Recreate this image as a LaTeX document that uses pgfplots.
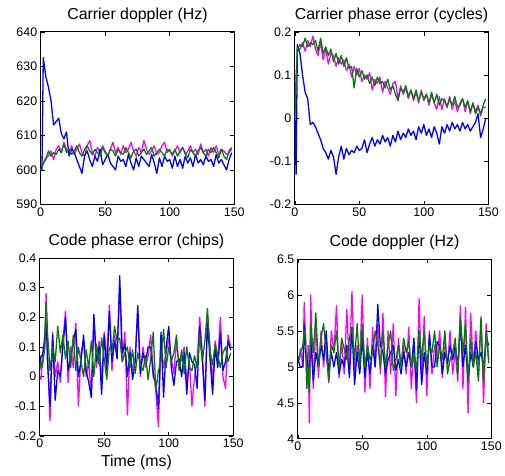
\documentclass[border=0pt]{standalone}
\usepackage{pgfplots}
\pgfplotsset{compat=1.18}
\usepackage{pgfplotstable}
\usepackage{fontspec}
\setmainfont{Liberation Sans}
\definecolor{mmag}{rgb}{1,0,1}
\definecolor{mblue}{rgb}{0,0,1}
\definecolor{mgreen}{rgb}{0,0.5,0}

\pgfplotstableread{
x m b g
0 600 600 600
1 601 600 600.5
2 602 632.5 602
4 603.5 627 603
6 604 624 605.5
8 605.5 620 604
10 603 613 605
12 606 614 604.5
14 607 615 606
16 605 610.5 605
18 608 609 607.5
20 606 611 605
22 605 604 606
24 607 606 604.5
26 604.5 605 605.5
28 606 603 607
30 607.5 601 605
32 605 599 604
34 604 604 606
36 607 605.5 607
38 608.5 603 605.5
40 605 601 604.5
42 604 604 606
44 606.5 602.5 605
46 605 606 604
48 607 601.5 606.5
50 605.5 603 605
52 604 604.5 604
54 606 602 606
56 608 601 605.5
58 605 600 604
60 606.5 604 606
62 604.5 602.5 605
64 607 603 604.5
66 605 601 606.5
68 606 604.5 605
70 608 602 603.5
72 605.5 600 605.5
74 604 603.5 606
76 606.5 601 604
78 605 604 605
80 608.5 603 606
82 606 602 604.5
84 604.5 601 605.5
86 605.5 604.5 606.5
88 607 602 604
90 604.5 599 605
92 605 603.5 606
94 607 601 605
96 608 604 604
98 605 602.5 606
100 606 603 605.5
102 604 600.5 604.5
104 605.5 604 606
106 607 601 604
108 605 603 605.5
110 606.5 600.5 606.5
112 604.5 604 605
114 605.5 602 603.5
116 607 603.5 606
118 605 601 605
120 606 604.5 604
122 604.5 602 605.5
124 607.5 603 606.5
126 605 601.5 605
128 606 604 604
130 604 602.5 606
132 606.5 603 605
134 605 601 606.5
136 607 604.5 605
138 604.5 602 603.5
140 606 603 606
142 605.5 601.5 604
144 604.5 600 603
146 605 603 605.5
148 606 605 606.5
}\cardop

\pgfplotstableread{
x m b g
0 0 0 0
1 0.10 -0.13 0.08
2 0.155 0.17 0.16
4 0.16 0.15 0.17
6 0.175 0.10 0.165
8 0.155 0.06 0.185
10 0.18 0.045 0.165
12 0.165 -0.015 0.175
14 0.19 -0.01 0.17
16 0.16 -0.02 0.18
18 0.145 -0.035 0.155
20 0.175 -0.05 0.185
22 0.135 -0.07 0.15
24 0.16 -0.08 0.165
26 0.125 -0.095 0.145
28 0.15 -0.075 0.16
30 0.145 -0.09 0.13
32 0.12 -0.13 0.15
34 0.14 -0.09 0.125
36 0.125 -0.065 0.145
38 0.135 -0.095 0.12
40 0.11 -0.07 0.14
42 0.125 -0.085 0.115
44 0.095 -0.075 0.12
46 0.12 -0.08 0.07
48 0.10 -0.065 0.115
50 0.115 -0.075 0.095
52 0.085 -0.07 0.11
54 0.10 -0.05 0.09
56 0.09 -0.08 0.10
58 0.105 -0.06 0.08
60 0.065 -0.045 0.095
62 0.09 -0.065 0.075
64 0.08 -0.05 0.095
66 0.095 -0.06 0.08
68 0.06 -0.04 0.085
70 0.085 -0.055 0.07
72 0.07 -0.045 0.09
74 0.055 -0.065 0.065
76 0.08 -0.04 0.075
78 0.085 -0.055 0.055
80 0.045 -0.03 0.04
82 0.075 -0.05 0.07
84 0.055 -0.035 0.06
86 0.07 -0.045 0.075
88 0.045 -0.025 0.05
90 0.065 -0.04 0.065
92 0.04 -0.03 0.045
94 0.06 -0.05 0.065
96 0.035 -0.02 0.04
98 0.065 -0.035 0.06
100 0.04 -0.015 0.045
102 0.055 -0.04 0.055
104 0.03 -0.025 0.035
106 0.055 -0.045 0.06
108 0.035 -0.02 0.035
110 0.02 -0.035 0.055
112 0.05 -0.06 0.03
114 0.02 -0.02 0.045
116 0.045 -0.035 0.04
118 0.025 -0.015 0.025
120 0.05 -0.03 0.045
122 0.02 -0.01 0.03
124 0.04 -0.025 0.05
126 0.015 -0.015 0.025
128 0.035 -0.03 0.03
130 0.045 -0.01 0.045
132 0.015 -0.025 0.025
134 0.04 -0.015 0.04
136 0.01 -0.03 0.015
138 0.035 -0.02 0.035
140 0.015 -0.01 0.01
142 0.03 0.01 0.025
144 0.005 -0.045 0.01
146 0.025 -0.025 0.03
148 0.025 0 0.045
}\carphase

\pgfplotstableread{
x m b g
0 0.0 0.02 0.03
1 -0.01 0.07 0.05
2 0.05 0.07 0.03
4 0.15 0.12 0.10
5 0.28 0.22 0.25
6 0.10 0.05 0.15
8 -0.15 -0.10 0.02
10 0.15 0.14 0.10
12 0.0 -0.08 0.05
14 0.05 0.02 0.17
16 -0.02 0.0 0.08
18 0.12 0.10 0.14
20 0.22 0.20 0.06
22 -0.02 0.02 0.12
24 0.10 0.06 0.03
26 0.03 0.12 0.14
28 0.18 0.16 0.02
30 -0.10 0.0 0.10
32 0.08 0.05 0.05
34 0.12 0.14 0.0
36 0.0 0.02 0.09
38 0.05 -0.02 0.03
40 -0.07 -0.07 0.12
42 0.20 0.21 0.0
44 0.03 0.05 0.11
46 0.12 0.10 0.04
48 -0.02 -0.06 0.13
50 0.15 0.14 0.06
52 0.05 0.02 -0.01
54 0.24 0.22 0.10
56 0.02 0.05 0.08
58 0.14 0.12 0.17
60 0.08 0.06 0.12
62 0.30 0.34 0.13
64 0.05 0.08 0.05
66 0.15 0.11 0.08
68 -0.13 0.0 0.10
70 0.10 0.08 0.03
72 0.02 -0.01 0.09
74 0.06 0.05 0.01
76 0.22 0.24 0.08
78 0.0 0.01 0.04
80 0.10 0.08 0.02
82 0.03 0.05 0.07
84 0.07 0.10 -0.01
86 0.14 0.10 0.06
88 0.02 0.0 0.15
90 -0.05 -0.02 -0.05
92 -0.17 -0.11 0.02
94 0.12 0.15 0.05
96 0.03 -0.07 0.16
98 0.08 0.10 0.03
100 0.13 0.17 0.10
102 0.06 0.03 0.05
104 0.01 -0.03 0.08
106 0.12 0.05 0.14
108 0.03 0.06 0.02
110 0.06 0.0 0.09
112 0.10 0.08 0.01
114 -0.02 -0.06 0.10
116 0.05 0.08 0.03
118 -0.10 0.05 0.02
120 0.0 0.04 0.07
122 0.05 -0.04 0.03
124 0.20 0.17 0.14
126 0.08 0.06 0.05
128 -0.10 -0.08 0.12
130 0.21 0.18 0.23
132 0.10 0.06 0.08
134 -0.02 -0.06 0.04
136 0.12 0.10 0.11
138 0.05 0.03 0.07
140 0.20 0.15 0.03
142 0.0 0.02 0.08
144 -0.04 0.05 0.10
146 0.14 0.12 0.05
148 0.10 0.09 0.08
}\codephase

\pgfplotstableread{
x m b g
0 5.15 5.15 5.15
1 5.1 5.05 5.1
2 5.25 5.0 5.2
4 5.0 5.0 5.3
5 5.9 5.6 5.5
6 5.4 5.2 5.45
7 4.7 5.1 4.7
8 5.3 5.0 5.0
9 4.22 4.9 4.65
10 6.0 5.4 5.6
12 4.7 4.8 5.2
14 5.6 5.2 5.75
16 4.85 5.0 5.0
18 5.5 5.3 5.4
20 5.0 5.1 5.6
22 5.4 5.5 5.2
24 4.78 4.9 4.8
26 5.5 5.2 5.3
28 5.2 5.0 5.2
30 5.85 5.2 5.5
32 4.85 4.9 5.0
34 5.35 5.1 5.4
36 4.9 5.0 5.25
38 5.8 5.3 5.1
40 5.0 4.85 5.4
42 6.05 5.55 5.55
44 4.9 4.75 5.1
46 5.3 5.2 5.6
48 5.1 4.9 5.0
50 6.0 5.4 5.6
52 4.65 4.85 5.0
54 5.4 5.2 5.3
56 4.7 4.9 5.1
58 5.55 5.3 5.2
60 5.0 5.0 5.5
62 5.6 5.87 5.3
64 4.9 5.3 5.0
66 5.75 5.2 5.5
68 4.58 4.9 5.0
70 5.5 5.1 5.3
72 4.9 5.2 5.5
74 5.6 5.3 4.95
76 4.6 4.95 5.1
78 5.4 5.1 5.3
80 5.0 4.9 5.0
82 5.3 5.2 5.4
84 4.9 5.0 5.2
86 5.55 5.2 5.35
88 4.7 5.0 5.0
90 5.3 5.4 5.2
92 4.5 4.67 4.95
94 5.95 5.5 5.5
96 4.8 4.75 5.1
98 5.7 5.2 5.5
100 4.6 4.9 5.0
102 5.5 5.45 5.3
104 4.9 5.0 5.2
106 5.3 5.0 5.5
108 5.1 5.35 5.0
110 5.5 5.3 5.3
112 4.85 4.9 5.1
114 5.4 5.2 5.5
116 5.0 5.05 4.9
118 5.5 5.3 5.1
120 4.9 5.1 5.2
122 5.2 5.3 5.4
124 4.8 5.0 4.9
126 5.85 5.6 5.7
128 4.7 5.0 5.2
130 5.83 5.3 5.6
132 4.36 4.8 4.8
134 5.75 5.2 5.4
136 5.0 5.0 5.0
138 5.5 5.35 5.2
140 4.9 5.1 4.8
142 5.7 5.2 5.68
144 4.5 5.0 4.8
146 5.6 5.4 5.5
148 5.1 5.3 5.05
}\codedop

\pgfplotsset{
  mat/.style={
    scale only axis, width=195pt, height=174pt,
    xmin=0, xmax=150, xtick={0,50,100,150},
    tick align=inside, major tick length=4pt,
    tick style={black, line width=0.5pt},
    axis line style={black, line width=0.8pt},
    /pgf/number format/assume math mode=true,
    tick label style={font=\fontsize{12.5}{14}\selectfont},
    title style={font=\fontsize{16}{18}\selectfont},
    label style={font=\fontsize{16}{18}\selectfont},
    every axis plot/.append style={line width=1.3pt, line join=round},
  }
}

\begin{document}
\begin{tikzpicture}
\path (0pt,0pt) rectangle (505pt,-479pt);

\begin{axis}[mat, at={(41pt,-32pt)}, anchor=north west,
  ymin=590, ymax=640, ytick={590,600,...,640},
  title={Carrier doppler (Hz)}]
\addplot[mmag] table[x=x,y=m]{\cardop};
\addplot[mblue] table[x=x,y=b]{\cardop};
\addplot[mgreen] table[x=x,y=g]{\cardop};
\end{axis}

\begin{axis}[mat, at={(297pt,-32pt)}, anchor=north west,
  ymin=-0.2, ymax=0.2, ytick={-0.2,-0.1,0,0.1,0.2},
  title={Carrier phase error (cycles)}]
\addplot[mmag] table[x=x,y=m]{\carphase};
\addplot[mblue] table[x=x,y=b]{\carphase};
\addplot[mgreen] table[x=x,y=g]{\carphase};
\end{axis}

\begin{axis}[mat, at={(40pt,-260pt)}, anchor=north west, height=179pt,
  ymin=-0.2, ymax=0.4, ytick={-0.2,-0.1,0,0.1,0.2,0.3,0.4},
  title={Code phase error (chips)}, xlabel={Time (ms)}]
\addplot[mmag] table[x=x,y=m]{\codephase};
\addplot[mblue] table[x=x,y=b]{\codephase};
\addplot[mgreen] table[x=x,y=g]{\codephase};
\end{axis}

\begin{axis}[mat, at={(300pt,-261pt)}, anchor=north west, height=181pt,
  ymin=4, ymax=6.5, ytick={4,4.5,5,5.5,6,6.5},
  title={Code doppler (Hz)}]
\addplot[mmag] table[x=x,y=m]{\codedop};
\addplot[mblue] table[x=x,y=b]{\codedop};
\addplot[mgreen] table[x=x,y=g]{\codedop};
\end{axis}
\end{tikzpicture}
\end{document}
